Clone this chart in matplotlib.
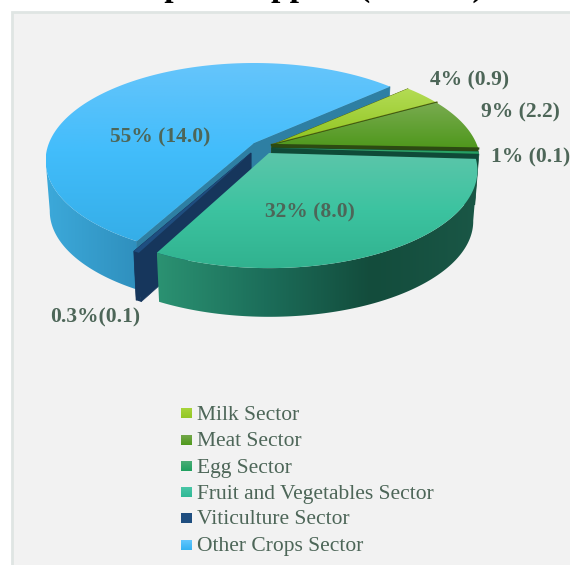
import numpy as np
import matplotlib
matplotlib.use('Agg')
import matplotlib.pyplot as plt
from matplotlib.colors import LinearSegmentedColormap
from matplotlib.patches import Polygon, Rectangle

plt.rcParams['font.family'] = ['Liberation Serif', 'DejaVu Serif']

categories = ['Milk Sector', 'Meat Sector', 'Egg Sector',
              'Fruit and Vegetables Sector', 'Viticulture Sector', 'Other Crops Sector']
values = [0.9, 2.2, 0.1, 8.0, 0.1, 14.0]
value_labels = ['4% (0.9)', '9% (2.2)', '1% (0.1)', '32% (8.0)', '0.3%(0.1)', '55% (14.0)']
# the reference cuts its title off, only the tips of p, p, p, ( and ) show,
# so this wording is a guess fitted to where those tips sit
title = 'Coupled Support (MEUR)'

# top surface gradient (upper -> lower), outer wall gradient (left -> right), cut face
top_colors = [['#b4dc55', '#8fc41e'], ['#79ab50', '#4f981c'], ['#3fae78', '#1f9c5c'],
              ['#5cc6aa', '#3cc3a0', '#31b28f'], ['#1f4e80', '#1f4e80'],
              ['#66c5fb', '#42bdfb', '#35aee8']]
wall_colors = [['#6b8f1a', '#5a7a14'], ['#3f7414', '#2f5a10'], ['#12563f', '#12563f'],
               ['#2b9272', '#1c6e5a', '#134c3c', '#1a5746'], ['#17375e', '#17375e'],
               ['#3ca9da', '#2f8fbd']]
cut_colors = ['#55650c', '#2c4a12', '#0f4a38', '#0f4a38', '#16365c', '#2e7fa3']
offsets = [(0, 0), (0, 0), (0, 3), (-3, 8), (-21, 8), (-18, -2)]
swatch_colors = [['#aad63c', '#93c626'], ['#77a94f', '#509a1d'], ['#4fae78', '#1fa05f'],
                 ['#4cc8a8', '#30b896'], ['#1f4e80', '#1f4e80'], ['#66c8ff', '#34b2f2']]

tip_x, tip_y = 272, 145
rx, ry, persp, depth = 205, 94.4, 0.18, 51
start_angle = 42

label_pos = [(430, 80, 'left'), (481, 112, 'left'), (491, 157, 'left'),
             (310, 212, 'center'), (50, 317, 'left'), (160, 137, 'center')]


def project(angle, off, low=False):
    # unit disc -> picture, v points to the viewer
    a = np.radians(angle)
    u, v = np.cos(a), -np.sin(a)
    w = 1 - persp * v
    x, y = rx * u / w, ry * v / w
    if low:
        return tip_x + off[0] + x * 0.98, tip_y + off[1] + y * 0.98 + depth
    return tip_x + off[0] + x, tip_y + off[1] + y


def gradient_fill(ax, pts, colors, horizontal=False):
    pts = np.asarray(pts)
    cmap = LinearSegmentedColormap.from_list('g', colors)
    ramp = np.linspace(0, 1, 256)
    ramp = ramp[None, :] if horizontal else ramp[:, None]
    x0, x1, y0, y1 = pts[:, 0].min(), pts[:, 0].max(), pts[:, 1].min(), pts[:, 1].max()
    im = ax.imshow(ramp, cmap=cmap, extent=(x0, x1, y1, y0), aspect='auto',
                   origin='upper', interpolation='bilinear', zorder=2)
    clip = Polygon(pts, closed=True, transform=ax.transData, fc='none', ec='none')
    ax.add_patch(clip)
    im.set_clip_path(clip)


def draw_slice(ax, a0, a1, i):
    off = offsets[i]
    tip = (tip_x + off[0], tip_y + off[1])
    tip_low = (tip[0], tip[1] + depth)
    angles = np.linspace(a0, a1, 120)
    rim = [project(a, off) for a in angles]
    rim_low = [project(a, off, True) for a in angles]
    # outer wall, only the part that faces the viewer
    front = np.linspace(min(a0, -10), max(a1, -170), 120)
    if a0 > -170 and a1 < -10:
        wall_top = [project(a, off) for a in front]
        wall_low = [project(a, off, True) for a in front]
        gradient_fill(ax, wall_top + wall_low[::-1], wall_colors[i], horizontal=True)
    # two cut faces, the fruit slice shows none
    if i != 3:
        for k in (0, -1):
            face = [tip, rim[k], rim_low[k], tip_low]
            ax.fill(*zip(*face), color=cut_colors[i], lw=0.5, zorder=2)
    gradient_fill(ax, [tip] + rim, top_colors[i])
    return tip, rim


fig = plt.figure(figsize=(5.7, 5.65), dpi=100)
ax = fig.add_axes([0, 0, 1, 1])
ax.set_xlim(0, 570)
ax.set_ylim(565, 0)
ax.axis('off')

ax.add_patch(Rectangle((12, 12), 570, 565, fc='#f2f2f2', ec='#dfe5e3', lw=2, zorder=1))

fig.text(294 / 570, 1.0 + 4 / 565, title, ha='center', va='baseline', fontsize=24,
         fontweight='bold', color='black')

# slice angles go clockwise from the start angle
spans = np.array(values) / sum(values) * 360
ends = start_angle - np.cumsum(spans)
starts = ends + spans

for i in [5, 0, 1, 2, 4, 3]:
    tip, rim = draw_slice(ax, starts[i], ends[i], i)
    if i in (0, 1):
        ax.plot(*zip(tip, rim[-1]), color=cut_colors[i], lw=1.6, zorder=2)

for (x, y, ha), txt in zip(label_pos, value_labels):
    ax.text(x, y, txt, ha=ha, va='center', fontsize=15.5, fontweight='bold',
            color='#4d6658', zorder=3)

legend_y = [413, 440, 466, 492, 518, 545]
for name, y, cols in zip(categories, legend_y, swatch_colors):
    gradient_fill(ax, [(181, y - 5.5), (192, y - 5.5), (192, y + 5.5), (181, y + 5.5)], cols)
    ax.text(197, y + 2, name, ha='left', va='center', fontsize=15.5, color='#4d6658', zorder=3)

ax.set_xlim(0, 570)
ax.set_ylim(565, 0)
fig.savefig('out.png', dpi=100)
